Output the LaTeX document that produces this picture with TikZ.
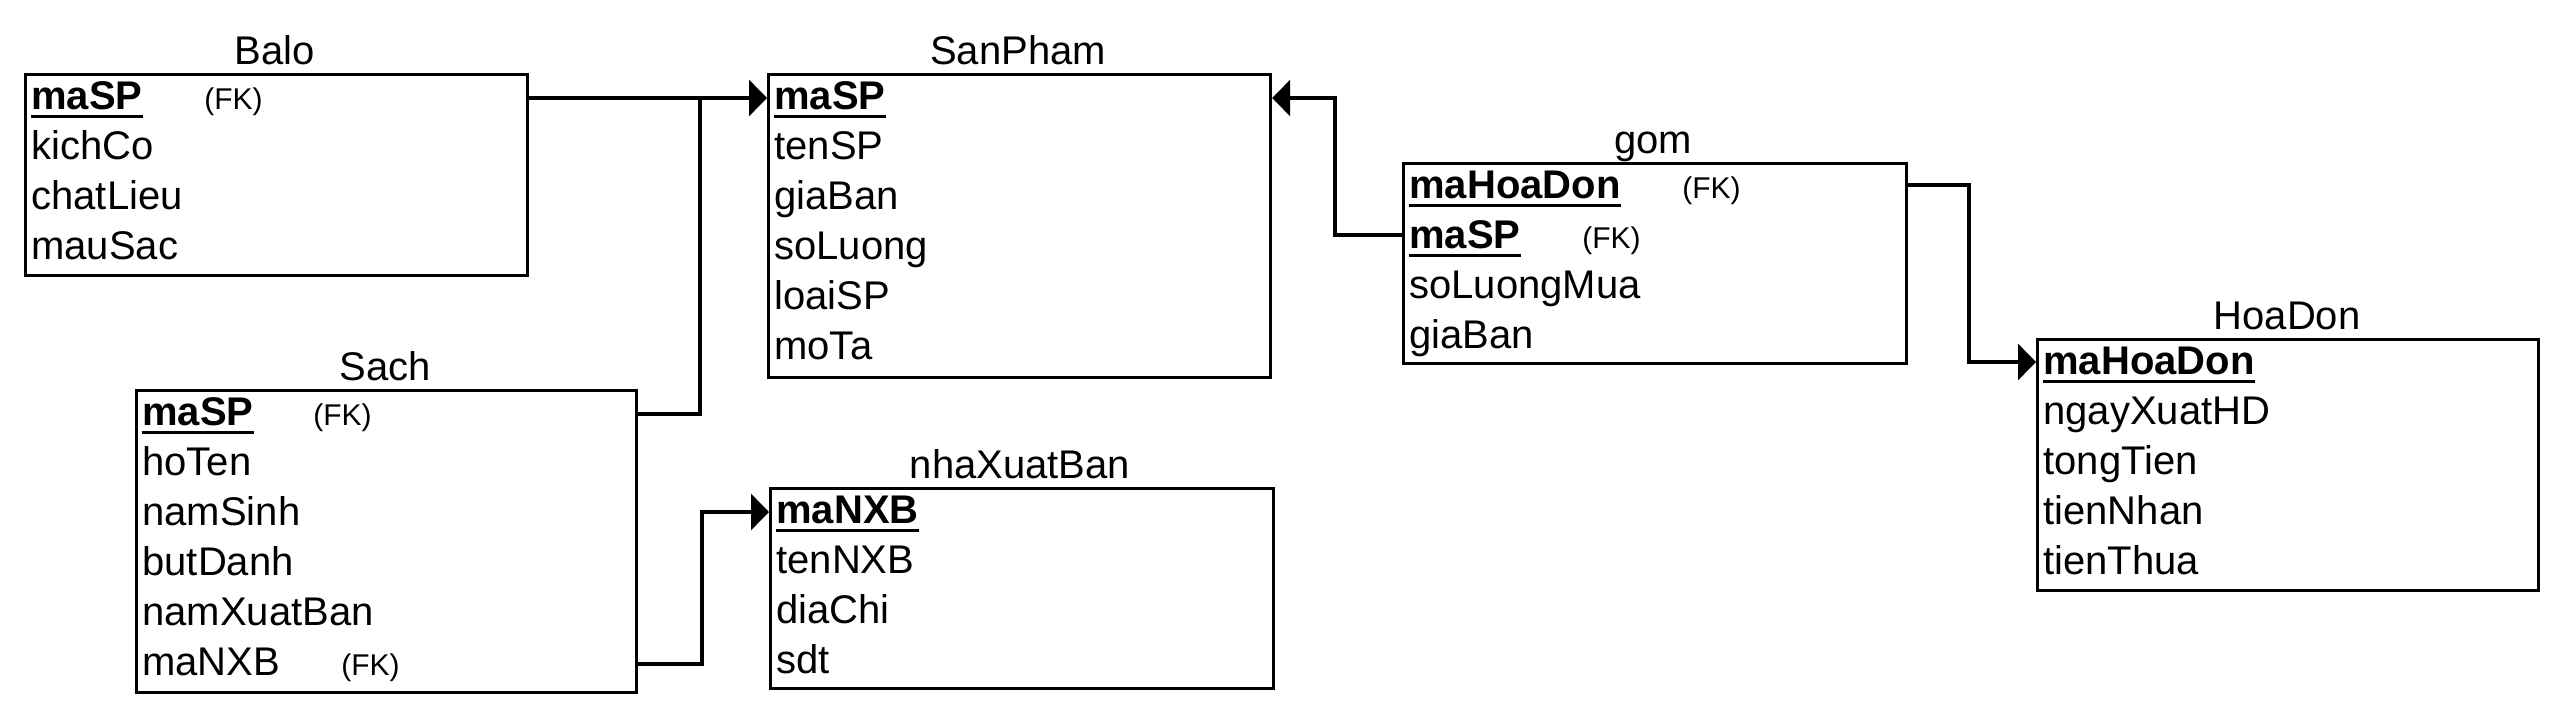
\documentclass[tikz,border=0pt]{standalone}
\usepackage{fontspec}
\setmainfont{Liberation Sans}
\usetikzlibrary{arrows.meta}
\newcommand\pkey[1]{\setbox0\hbox{\bfseries #1}\rlap{\rule[-4.5pt]{\wd0}{1.6pt}}\box0}
\begin{document}
\begin{tikzpicture}[x=0.5pt,y=-0.5pt,
  tbl/.style={draw, line width=1.6pt, inner sep=0, anchor=north west},
  fld/.style={anchor=base west, inner sep=0, font=\fontsize{20}{24}\selectfont},
  ttl/.style={anchor=base, inner sep=0, font=\fontsize{20}{24}\selectfont},
  fk/.style={anchor=base west, inner sep=0, font=\fontsize{15}{18}\selectfont},
  conn/.style={line width=1.6pt},
  arr/.style={conn, -{Triangle[length=9pt,width=18pt]}}]
\fill[white] (0,0) rectangle (2560,713);
\useasboundingbox (0,0) rectangle (2560,713);

% Balo
\node[tbl, minimum width=251pt, minimum height=100.5pt] (balo) at (24,73) {};
\node[ttl] (baloT) at (275,64) {Balo};
\node[fld] (balo1) at (31,109) {\pkey{maSP}};
\node[fk] (balo1fk) at (204,109) {(FK)};
\node[fld] (balo2) at (31,159) {kichCo};
\node[fld] (balo3) at (31,209) {chatLieu};
\node[fld] (balo4) at (31,259) {mauSac};
\coordinate (balo-r1) at (31,98);

% SanPham
\node[tbl, minimum width=251pt, minimum height=151.5pt] (sp) at (767,73) {};
\node[ttl] (spT) at (1018,64) {SanPham};
\node[fld] (sp1) at (774,109) {\pkey{maSP}};
\node[fld] (sp2) at (774,159) {tenSP};
\node[fld] (sp3) at (774,209) {giaBan};
\node[fld] (sp4) at (774,259) {soLuong};
\node[fld] (sp5) at (774,309) {loaiSP};
\node[fld] (sp6) at (774,359) {moTa};

% Sach
\node[tbl, minimum width=250pt, minimum height=151pt] (sach) at (135,389) {};
\node[ttl] (sachT) at (385,380) {Sach};
\node[fld] (sach1) at (142,425) {\pkey{maSP}};
\node[fk] (sach1fk) at (313,425) {(FK)};
\node[fld] (sach2) at (142,475) {hoTen};
\node[fld] (sach3) at (142,525) {namSinh};
\node[fld] (sach4) at (142,575) {butDanh};
\node[fld] (sach5) at (142,625) {namXuatBan};
\node[fld] (sach6) at (142,675) {maNXB};
\node[fk] (sach6fk) at (341,675) {(FK)};
\coordinate (sach-r1) at (142,414);
\coordinate (sach-r6) at (142,664);

% nhaXuatBan
\node[tbl, minimum width=251.5pt, minimum height=100pt] (nxb) at (769,487) {};
\node[ttl] (nxbT) at (1020,478) {nhaXuatBan};
\node[fld] (nxb1) at (776,523) {\pkey{maNXB}};
\node[fld] (nxb2) at (776,573) {tenNXB};
\node[fld] (nxb3) at (776,623) {diaChi};
\node[fld] (nxb4) at (776,673) {sdt};
\coordinate (nxb-r1) at (776,512);

% gom
\node[tbl, minimum width=251.5pt, minimum height=100pt] (gom) at (1402,162) {};
\node[ttl] (gomT) at (1653,153) {gom};
\node[fld] (gom1) at (1409,198) {\pkey{maHoaDon}};
\node[fk] (gom1fk) at (1682,198) {(FK)};
\node[fld] (gom2) at (1409,248) {\pkey{maSP}};
\node[fk] (gom2fk) at (1582,248) {(FK)};
\node[fld] (gom3) at (1409,298) {soLuongMua};
\node[fld] (gom4) at (1409,348) {giaBan};
\coordinate (gom-r1) at (1409,185);
\coordinate (gom-r2) at (1409,235);

% HoaDon
\node[tbl, minimum width=250.5pt, minimum height=125.5pt] (hd) at (2036,338) {};
\node[ttl] (hdT) at (2287,329) {HoaDon};
\node[fld] (hd1) at (2043,374) {\pkey{maHoaDon}};
\node[fld] (hd2) at (2043,424) {ngayXuatHD};
\node[fld] (hd3) at (2043,474) {tongTien};
\node[fld] (hd4) at (2043,524) {tienNhan};
\node[fld] (hd5) at (2043,574) {tienThua};
\coordinate (hd-r1) at (2043,362);

% connectors
\coordinate (j1) at (700,98);
\coordinate (j2) at (702,512);
\coordinate (j3) at (1335,98);
\coordinate (j4) at (1969,185);
\draw[arr] (balo.east |- balo-r1) -- (sp.west |- balo-r1);
\draw[conn] (sach.east |- sach-r1) -| (j1);
\draw[arr] (sach.east |- sach-r6) -| (j2) -- (nxb.west |- nxb-r1);
\draw[arr] (gom.west |- gom-r2) -| (j3) -- (sp.east |- j3);
\draw[arr] (gom.east |- gom-r1) -| (j4 |- hd-r1) -- (hd.west |- hd-r1);
\end{tikzpicture}
\end{document}
